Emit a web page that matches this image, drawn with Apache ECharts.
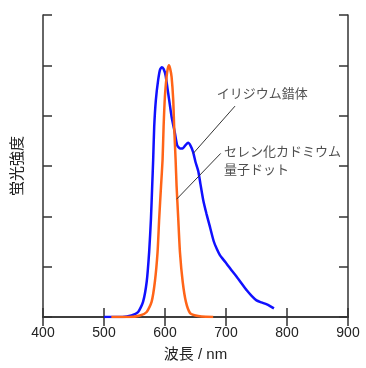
<!DOCTYPE html>
<html><head><meta charset="utf-8">
<script src="https://cdn.jsdelivr.net/npm/echarts@6/dist/echarts.min.js"></script>
<style>html,body{margin:0;padding:0;background:#fff}#c{width:366px;height:368px}</style>
</head><body><div id="c"></div>
<script>
var iridiumX = [500,530,545,556,564,570,574,577,579,580.6,582.3,585,588.8,592,595,598,601,605.3,610.8,616.3,620,624.5,629,634,638,642,646,650,654.5,658,662.7,668,673.7,680,685,690,695,701,709,717.5,726,734,742,750,758,767,773,778.6];
var iridiumY = [0,0,0.03,0.10,0.30,0.70,1.29,1.96,2.6,3.12,3.78,4.31,4.71,4.92,4.96,4.92,4.8,4.44,3.98,3.65,3.41,3.35,3.35,3.42,3.46,3.40,3.28,3.08,2.9,2.65,2.32,2.05,1.79,1.5,1.35,1.23,1.15,1.06,0.93,0.8,0.66,0.53,0.42,0.33,0.29,0.25,0.21,0.17];
var cdseX = [512,542,559,570,578,583.4,587.8,590.5,593.5,596,597.7,599.8,602.6,604.5,606.4,608.5,610.8,613.5,615,617.4,619,621.7,624.5,629,634.3,641,650,660,679];
var cdseY = [0,0,0.03,0.10,0.30,0.70,1.29,1.96,2.6,3.12,3.78,4.37,4.77,4.93,5.0,4.93,4.77,4.31,3.78,3.12,2.6,1.96,1.29,0.70,0.30,0.08,0.03,0.01,0];
var leaderIridium = [[714.8,4.19],[646.3,3.25]];
var leaderCdse = [[691.3,3.25],[619,2.34]];
var labelIridium = {x:685, y:4.43, text:'イリジウム錯体'};
var labelCdse = {x:696.7, y:3.09, text:'セレン化カドミウム\n量子ドット'};
var xTicks = {min:400, max:900, interval:100};
var xName = '波長 / nm';
var yName = '蛍光強度';

function zip(a,b){return a.map(function(v,i){return [v,b[i]];});}
var font = 'Arial, "Liberation Sans", "Noto Sans CJK JP", sans-serif';
var axisLine = {show:true, lineStyle:{color:'#333', width:1.5}};
var ticks = {show:true, inside:true, length:9, lineStyle:{color:'#333', width:1.5}};
var chart = echarts.init(document.getElementById('c'));
chart.setOption({
  animation:false,
  grid:{left:43, right:18, top:15, bottom:51},
  textStyle:{fontFamily:font},
  xAxis:[
    {type:'value', position:'bottom', min:xTicks.min, max:xTicks.max, interval:xTicks.interval,
     axisLine:axisLine, axisTick:ticks, splitLine:{show:false},
     axisLabel:{color:'#222', fontSize:14, margin:9, fontFamily:font},
     name:xName, nameLocation:'middle', nameGap:30, nameTextStyle:{color:'#222', fontSize:15, fontFamily:font}},
    {type:'value', position:'top', min:xTicks.min, max:xTicks.max, interval:xTicks.interval,
     axisLine:axisLine, axisTick:ticks, splitLine:{show:false}, axisLabel:{show:false}}
  ],
  yAxis:[
    {type:'value', position:'left', min:0, max:6, interval:1,
     axisLine:axisLine, axisTick:ticks, splitLine:{show:false}, axisLabel:{show:false},
     name:yName, nameLocation:'middle', nameGap:18, nameRotate:90,
     nameTextStyle:{color:'#222', fontSize:15, fontFamily:font}},
    {type:'value', position:'right', min:0, max:6, interval:1,
     axisLine:axisLine, axisTick:ticks, splitLine:{show:false}, axisLabel:{show:false}}
  ],
  series:[
    {type:'line', data:zip(iridiumX, iridiumY), showSymbol:false, smooth:0.2,
     lineStyle:{color:'#1010ff', width:2.5}, z:3},
    {type:'line', data:zip(cdseX, cdseY), showSymbol:false, smooth:0.2,
     lineStyle:{color:'#ff6418', width:2.5}, z:4},
    {type:'line', data:leaderIridium, showSymbol:false, lineStyle:{color:'#333', width:1}, z:5},
    {type:'line', data:leaderCdse, showSymbol:false, lineStyle:{color:'#333', width:1}, z:5},
    {type:'scatter', symbolSize:0, z:6,
     data:[[labelIridium.x, labelIridium.y, labelIridium.text],[labelCdse.x, labelCdse.y, labelCdse.text]],
     label:{show:true, position:'inside', align:'left', verticalAlign:'middle',
       formatter:function(p){return p.data[2];}, color:'#222', fontSize:13, lineHeight:18, fontFamily:font}}
  ]
});
</script></body></html>
